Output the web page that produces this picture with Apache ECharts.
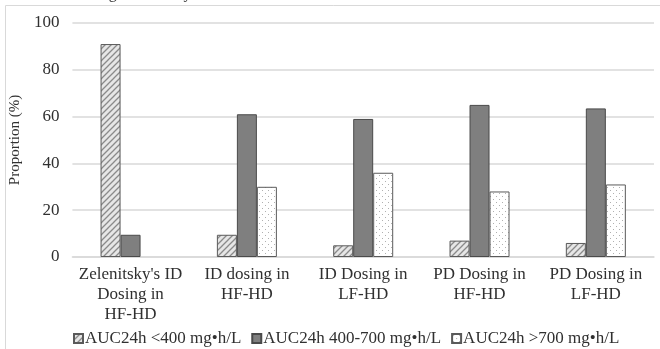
<!DOCTYPE html>
<html><head><meta charset="utf-8">
<script src="https://cdn.jsdelivr.net/npm/echarts@6/dist/echarts.min.js"></script>
<style>html,body{margin:0;padding:0;background:#fff}#c{width:660px;height:349px}</style>
</head><body><div id="c"></div>
<script>
var categories = ["Zelenitsky's ID\nDosing in\nHF-HD", "ID dosing in\nHF-HD", "ID Dosing in\nLF-HD", "PD Dosing in\nHF-HD", "PD Dosing in\nLF-HD"];
var seriesNames = ["AUC24h <400 mg\u2022h/L", "AUC24h 400-700 mg\u2022h/L", "AUC24h >700 mg\u2022h/L"];
var lowValues = [91, 9.5, 5, 7, 6];
var midValues = [9.5, 61, 59, 65, 63.5];
var highValues = [0, 30, 36, 28, 31];
var yTicks = [0, 20, 40, 60, 80, 100];

function hatch() {
  var c = document.createElement('canvas'); c.width = 6; c.height = 6;
  var g = c.getContext('2d');
  g.fillStyle = '#e6e6e6'; g.fillRect(0, 0, 6, 6);
  g.strokeStyle = '#8a8a8a'; g.lineWidth = 1.3;
  g.beginPath();
  g.moveTo(-1, 7); g.lineTo(7, -1);
  g.moveTo(-4, 4); g.lineTo(4, -4);
  g.moveTo(2, 10); g.lineTo(10, 2);
  g.stroke();
  return c;
}
function dots() {
  var c = document.createElement('canvas'); c.width = 6; c.height = 6;
  var g = c.getContext('2d');
  g.fillStyle = '#ffffff'; g.fillRect(0, 0, 6, 6);
  g.fillStyle = '#b0b0b0';
  g.fillRect(1, 1, 1, 1); g.fillRect(4, 4, 1, 1);
  return c;
}
function hideZero(arr) {
  return arr.map(function (v) { return v === 0 ? {value: v, itemStyle: {borderWidth: 0}} : v; });
}
var font = 'Liberation Serif';
var chart = echarts.init(document.getElementById('c'), null, {renderer: 'canvas'});
var border = '#5a5a5a';
chart.setOption({
  animation: false,
  textStyle: {fontFamily: font},
  graphic: [
    {type: 'rect', shape: {x: 5.5, y: 5.5, width: 700, height: 400}, style: {fill: 'none', stroke: '#d9d9d9', lineWidth: 1}, z: -1},
    {type: 'text', left: 2, top: -14, style: {text: 'contained 400 mg\u2022h/L on day 1 after HD', font: '16px "Liberation Serif"', fill: '#333'}}
  ],
  grid: {left: 66, right: 6, top: 23, bottom: 92},
  legend: {
    top: 325, left: 68, itemWidth: 9, itemHeight: 9, itemGap: 10,
    icon: 'rect',
    textStyle: {fontFamily: font, fontSize: 17, color: '#303030', padding: [0, 0, 0, -3]},
    data: seriesNames
  },
  xAxis: {
    type: 'category', data: categories,
    axisTick: {show: false},
    axisLine: {lineStyle: {color: '#d9d9d9', width: 1.5}},
    axisLabel: {fontFamily: font, fontSize: 17, color: '#303030', lineHeight: 20, margin: 8, interval: 0}
  },
  yAxis: {
    type: 'value', min: yTicks[0], max: yTicks[yTicks.length - 1], interval: 20,
    name: 'Proportion (%)', nameLocation: 'middle', nameGap: 32,
    nameTextStyle: {fontFamily: font, fontSize: 15, color: '#303030'},
    axisLabel: {fontFamily: font, fontSize: 17, color: '#303030', margin: 13},
    splitLine: {lineStyle: {color: '#d9d9d9', width: 1.5}},
    axisLine: {show: false}, axisTick: {show: false}
  },
  series: [
    {name: seriesNames[0], type: 'bar', data: hideZero(lowValues), barWidth: 20, barGap: '0%',
     itemStyle: {color: {image: hatch(), repeat: 'repeat'}, borderColor: border, borderWidth: 1}},
    {name: seriesNames[1], type: 'bar', data: hideZero(midValues), barWidth: 20, barGap: '0%',
     itemStyle: {color: '#7f7f7f', borderColor: '#4a4a4a', borderWidth: 1}},
    {name: seriesNames[2], type: 'bar', data: hideZero(highValues), barWidth: 20, barGap: '0%',
     itemStyle: {color: {image: dots(), repeat: 'repeat'}, borderColor: border, borderWidth: 1}}
  ]
});
</script></body></html>
